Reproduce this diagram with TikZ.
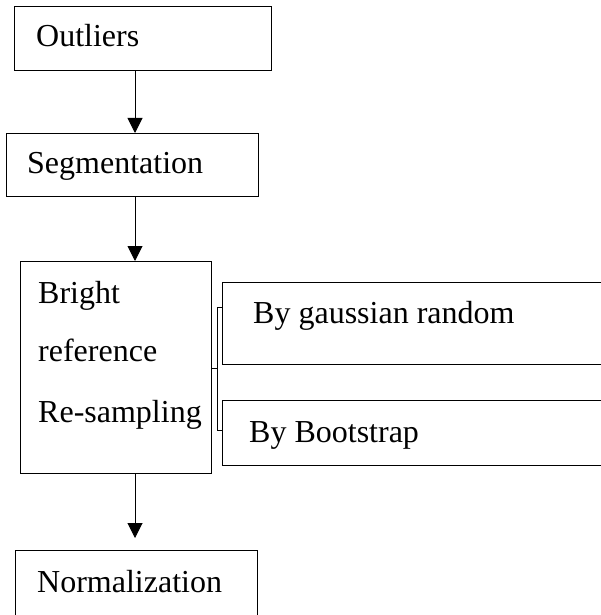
\documentclass[tikz,border=0pt]{standalone}
\usepackage{fontspec}
\setmainfont{Liberation Serif}
\usetikzlibrary{arrows.meta}
\begin{document}
\begin{tikzpicture}[x=1pt,y=-1pt,
  box/.style={draw,line width=1.3pt,inner sep=0pt},
  lbl/.style={anchor=base west,inner sep=0pt,font=\fontsize{32}{32}\selectfont},
  arr/.style={line width=1pt,-{Triangle[length=15pt,width=15pt]}},
  brk/.style={line width=0.8pt}]
\useasboundingbox (0,0) rectangle (600,615);
\fill[white] (0,0) rectangle (600,615);
% boxes
\node[box,minimum width=257pt,minimum height=64pt,anchor=north west] (out) at (14,6) {};
\node[box,minimum width=252pt,minimum height=63pt,anchor=north west] (seg) at (6,133) {};
\node[box,minimum width=191pt,minimum height=212pt,anchor=north west] (bri) at (20,261) {};
\node[box,minimum width=400pt,minimum height=82pt,anchor=north west] (gau) at (222,282) {};
\node[box,minimum width=400pt,minimum height=65pt,anchor=north west] (boo) at (222,400) {};
\node[box,minimum width=242pt,minimum height=80pt,anchor=north west] (nor) at (15,550) {};
% texts
\node[lbl] (t1) at (36,47) {Outliers};
\node[lbl] (t2) at (27,173) {Segmentation};
\node[lbl] (t3) at (38,303) {Bright};
\node[lbl] (t4) at (38,361) {reference};
\node[lbl] (t5) at (38,422) {Re-sampling};
\node[lbl] (t6) at (253,323) {By gaussian random};
\node[lbl] (t7) at (249,442) {By Bootstrap};
\node[lbl] (t8) at (37,592) {Normalization};
% arrows
\draw[arr] (out.south -| 135,0) -- (seg.north -| 135,0);
\draw[arr] (seg.south -| 135,0) -- (bri.north -| 135,0);
\draw[arr] (bri.south -| 135,0) -- ([yshift=12pt]nor.north -| 135,0);
% bracket
\coordinate (bm) at (217,368);
\draw[brk] (bri.east |- bm) -- (bm);
\draw[brk] (gau.west |- 0,307) -- (217,307) -- (217,430) -- (boo.west |- 0,430);
\end{tikzpicture}
\end{document}
